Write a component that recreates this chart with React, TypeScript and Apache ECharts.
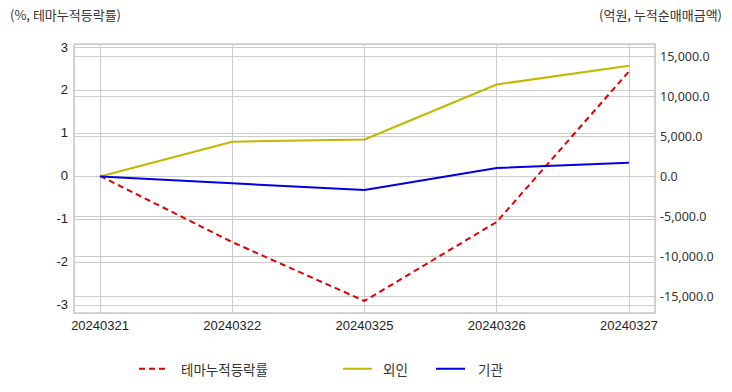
import React, { useEffect, useRef } from "react";
import * as echarts from "echarts";

const dates = ["20240321", "20240322", "20240325", "20240326", "20240327"];
const themeRate = [0, -1.54, -2.91, -1.07, 2.43];
const foreign = [0, 4350, 4620, 11500, 13850];
const institution = [0, -850, -1700, 1060, 1730];

const KR = "'Noto Sans CJK KR', 'Noto Sans', sans-serif";

export default function App() {
  const ref = useRef<HTMLDivElement>(null);
  useEffect(() => {
    if (!ref.current) return;
    const chart = echarts.init(ref.current, undefined, { renderer: "svg" });
    const pts = (arr: number[]) => arr.map((v, i) => [i, v]);
    const fmtNum = (v: number) =>
      v.toLocaleString("en-US", { minimumFractionDigits: 1, maximumFractionDigits: 1 });
    const legendBase = {
      top: 362,
      padding: 0,
      itemWidth: 29,
      itemHeight: 12,
      itemStyle: { opacity: 0 },
    };
    chart.setOption({
      animation: false,
      backgroundColor: "#fff",
      grid: {
        left: 74,
        right: 77,
        top: 44,
        bottom: 79,
        show: true,
        borderColor: "#cccccc",
        borderWidth: 1.5,
      },
      graphic: [
        {
          type: "text",
          left: 10,
          top: 8,
          style: { text: "(%, 테마누적등락률)", font: `13px ${KR}`, fill: "#333" },
        },
        {
          type: "text",
          right: 10,
          top: 8,
          style: { text: "(억원, 누적순매매금액)", font: `13px ${KR}`, fill: "#333" },
        },
      ],
      legend: [
        {
          ...legendBase,
          left: 138,
          data: ["테마누적등락률"],
          textStyle: { fontFamily: KR, fontSize: 13.5, color: "#333", padding: [0, 0, 0, 8] },
        },
        {
          ...legendBase,
          left: 342,
          data: ["외인"],
          textStyle: { fontFamily: KR, fontSize: 13.5, color: "#333", padding: [0, 0, 0, 6] },
        },
        {
          ...legendBase,
          left: 435,
          data: ["기관"],
          textStyle: { fontFamily: KR, fontSize: 13.5, color: "#333", padding: [0, 0, 0, 8] },
        },
      ],
      xAxis: {
        type: "value",
        min: -0.197,
        max: 4.197,
        axisLine: { show: true, lineStyle: { color: "#cccccc" } },
        axisTick: { show: false },
        splitLine: { show: true, lineStyle: { color: "#cccccc", width: 1 } },
        axisLabel: {
          showMinLabel: false,
          showMaxLabel: false,
          margin: 6,
          color: "#222",
          fontFamily: "'Liberation Sans', Arial, sans-serif",
          fontSize: 13,
          formatter: (v: number) =>
            Number.isInteger(Math.round(v * 1000) / 1000) && dates[Math.round(v)] !== undefined
              ? dates[Math.round(v)]
              : "",
        },
      },
      yAxis: [
        {
          type: "value",
          min: -3.19,
          max: 3.07,
          axisLine: { show: true, lineStyle: { color: "#cccccc" } },
          axisTick: { show: false },
          splitLine: { show: true, lineStyle: { color: "#cccccc", width: 1 } },
          axisLabel: {
            showMinLabel: false,
            showMaxLabel: false,
            margin: 6,
            color: "#222",
            fontFamily: "'Liberation Sans', Arial, sans-serif",
            fontSize: 13,
            formatter: (v: number) => (Number.isInteger(v) ? String(v) : ""),
          },
        },
        {
          type: "value",
          min: -17060,
          max: 16560,
          position: "right",
          axisLine: { show: true, lineStyle: { color: "#cccccc" } },
          axisTick: { show: false },
          splitLine: { show: true, lineStyle: { color: "#cccccc", width: 1 } },
          axisLabel: {
            showMinLabel: false,
            showMaxLabel: false,
            margin: 5,
            color: "#333",
            fontFamily: "'Noto Sans', sans-serif",
            fontSize: 12.5,
            formatter: (v: number) => (v % 5000 === 0 ? fmtNum(v) : ""),
          },
        },
      ],
      series: [
        {
          name: "테마누적등락률",
          type: "line",
          yAxisIndex: 0,
          data: pts(themeRate),
          symbol: "none",
          color: "#e00000",
          lineStyle: { color: "#e00000", width: 2, type: [6, 4] },
        },
        {
          name: "외인",
          type: "line",
          yAxisIndex: 1,
          data: pts(foreign),
          symbol: "none",
          color: "#c2b800",
          lineStyle: { color: "#c2b800", width: 2 },
        },
        {
          name: "기관",
          type: "line",
          yAxisIndex: 1,
          data: pts(institution),
          symbol: "none",
          color: "#0000e0",
          lineStyle: { color: "#0000e0", width: 2 },
        },
      ],
    });
    return () => chart.dispose();
  }, []);
  return <div ref={ref} style={{ width: 732, height: 392, margin: -8 }} />;
}
